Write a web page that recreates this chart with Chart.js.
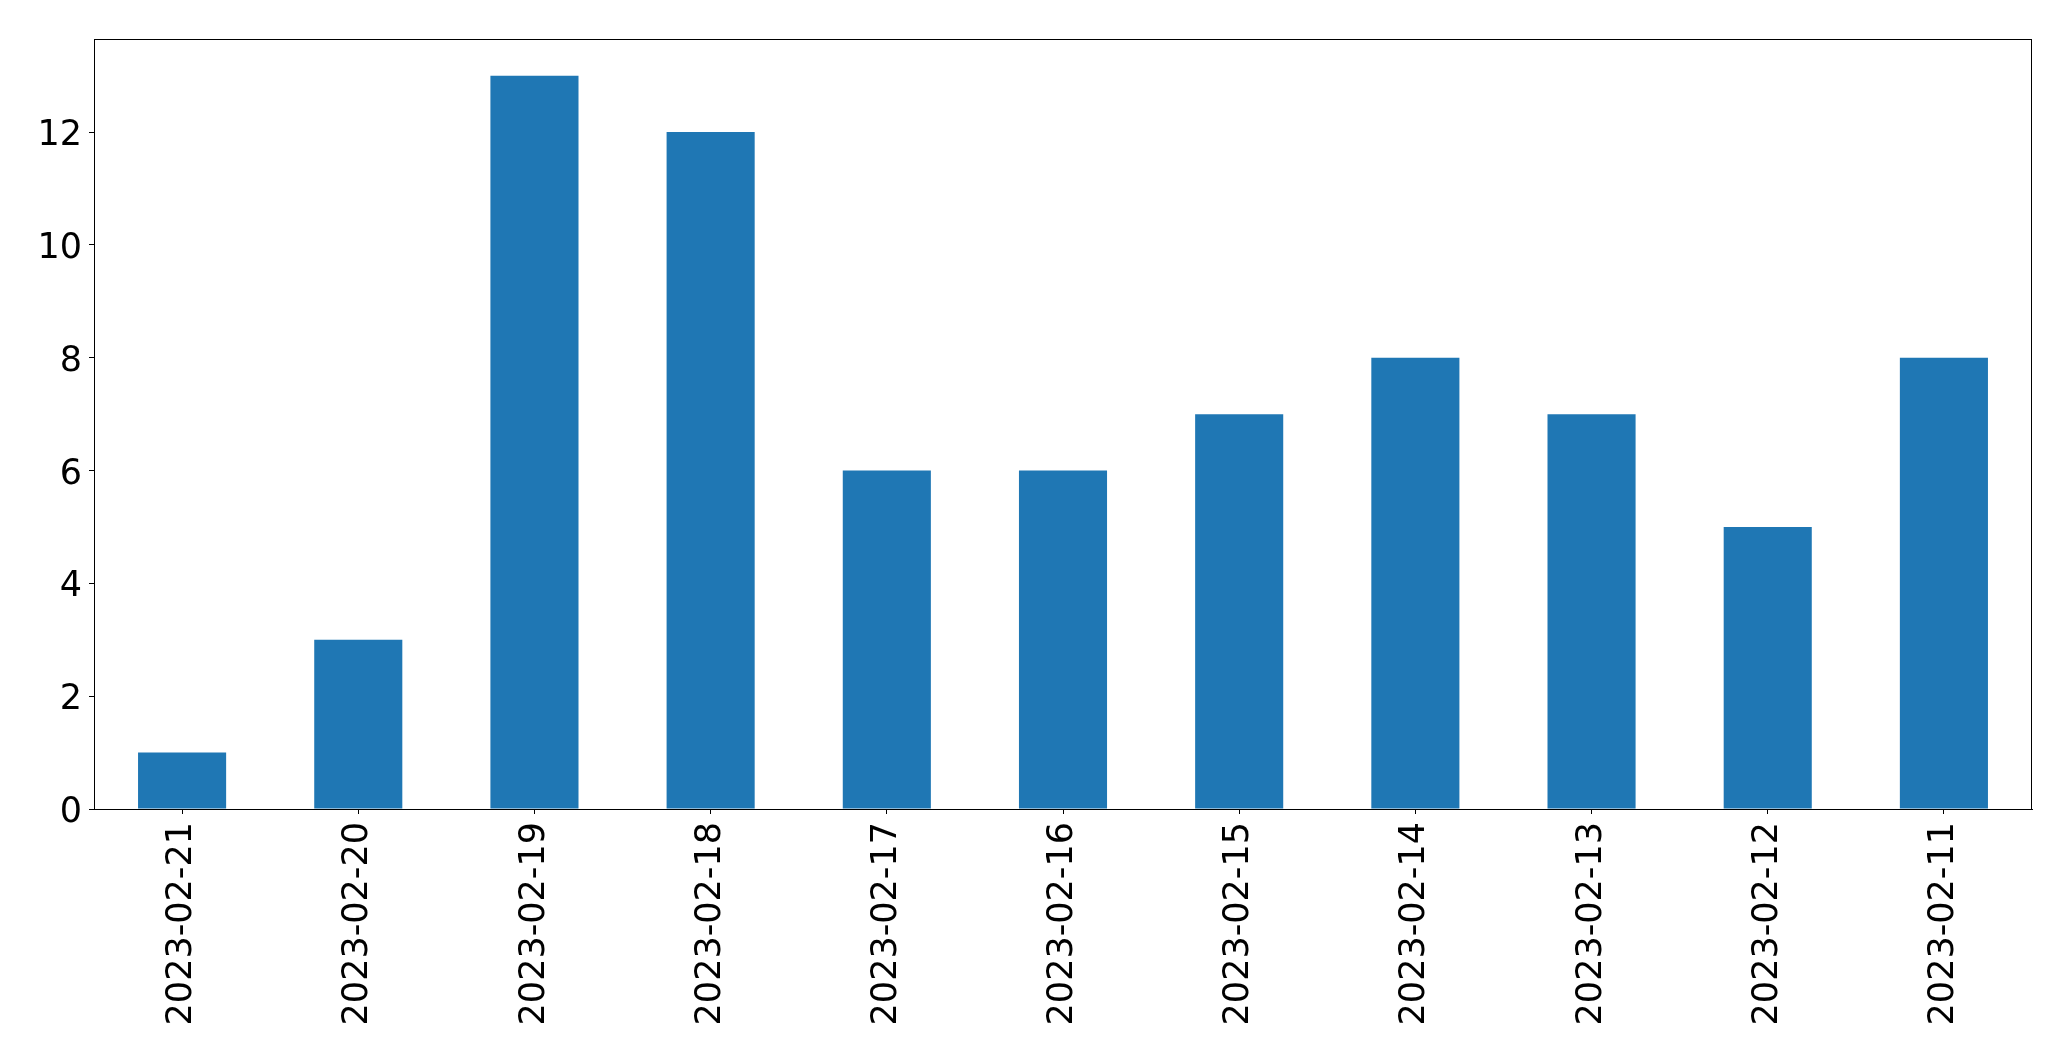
<!DOCTYPE html>
<html>
<head>
<meta charset="utf-8">
<script src="https://cdn.jsdelivr.net/npm/chart.js@4"></script>
<style>
  body { margin: 0; background: #fff; }
</style>
</head>
<body>
<canvas id="chart" width="2071" height="1061"></canvas>
<script>
const dates = ["2023-02-21", "2023-02-20", "2023-02-19", "2023-02-18", "2023-02-17", "2023-02-16",
               "2023-02-15", "2023-02-14", "2023-02-13", "2023-02-12", "2023-02-11"];
const counts = [1, 3, 13, 12, 6, 6, 7, 8, 7, 5, 8];
const yTicks = [0, 2, 4, 6, 8, 10, 12];

// frame around the plot like matplotlib's spines
const frame = {
    id: "frame",
    afterDraw(chart) {
        const a = chart.chartArea;
        const ctx = chart.ctx;
        ctx.save();
        ctx.strokeStyle = "#000";
        ctx.lineWidth = 1;
        ctx.strokeRect(a.left + 0.5, a.top + 0.5, a.right - a.left - 1, a.bottom - a.top);
        ctx.restore();
    }
};

const tickFont = { family: "DejaVu Sans", size: 35 };

new Chart(document.getElementById("chart").getContext("2d"), {
    type: "bar",
    data: {
        labels: dates,
        datasets: [{
            data: counts,
            backgroundColor: "#1f77b4",
            barPercentage: 1,
            categoryPercentage: 0.5,
        }],
    },
    options: {
        responsive: false,
        animation: false,
        layout: { padding: { top: 39, right: 39, left: 0, bottom: 0 } },
        plugins: {
            legend: { display: false },
            tooltip: { enabled: false },
        },
        scales: {
            x: {
                offset: true,
                grid: { offset: false, drawOnChartArea: false, tickLength: 5, color: "#000" },
                border: { color: "#000" },
                ticks: {
                    color: "#000",
                    font: tickFont,
                    maxRotation: 90,
                    minRotation: 90,
                    padding: 8,
                    autoSkip: false,
                },
                afterFit(scale) { scale.height = 252; },
            },
            y: {
                min: 0,
                max: 13.65,
                afterBuildTicks(scale) { scale.ticks = yTicks.map(v => ({ value: v })); },
                grid: { drawOnChartArea: false, tickLength: 5, color: "#000" },
                border: { color: "#000" },
                ticks: { color: "#000", font: tickFont, padding: 7, labelOffset: 4 },
                afterFit(scale) { scale.width = 94; },
            },
        },
    },
    plugins: [frame],
});
</script>
</body>
</html>
